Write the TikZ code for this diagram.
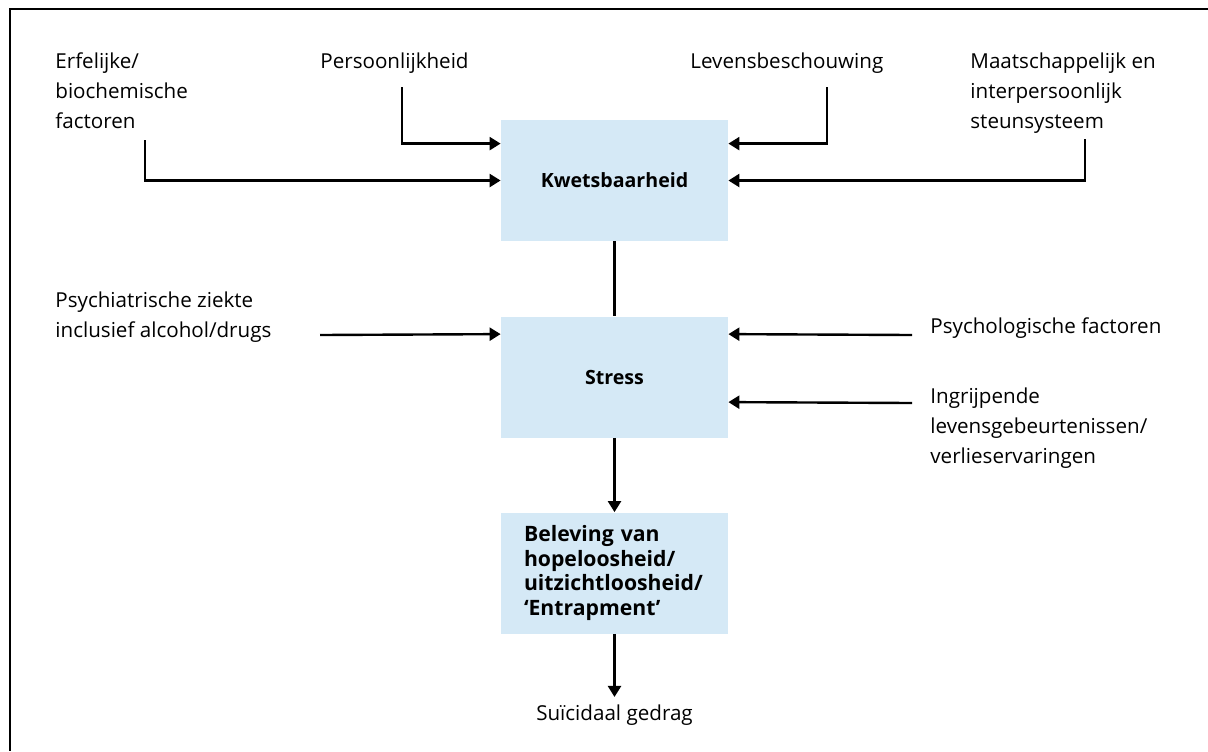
\documentclass[tikz,border=0pt]{standalone}
\usepackage{fontspec}
\setmainfont{Open Sans}
\usetikzlibrary{arrows.meta}
\definecolor{boxblue}{RGB}{213,233,246}
\begin{document}
\begin{tikzpicture}[x=0.5pt,y=-0.5pt,
  lbl/.style={anchor=base west,inner sep=0pt,align=left,font=\fontsize{10.3}{15}\selectfont},
  box/.style={fill=boxblue,minimum width=113.5pt,minimum height=60.5pt,inner sep=0pt,font=\fontsize{9.8}{12}\selectfont\bfseries},
  arr/.style={line width=1.2pt,-{Triangle[length=5.5pt,width=6.5pt]}},
  ln/.style={line width=1.2pt}]
\useasboundingbox (0,0) rectangle (1208,751);
\draw[line width=0.8pt] (1208,9) -- (10,9) -- (10,751);
% boxes
\node[box] (kw) at (614.5,180.5) {Kwetsbaarheid};
\node[box] (st) at (614.5,377) {Stress};
\node[box,text width=90.5pt,align=left,font=\fontsize{10.6}{12.3}\selectfont\bfseries] (bel) at (614.5,573) {Beleving van\\hopeloosheid/\\uitzichtloosheid/\\‘Entrapment’};
% labels (anchor = baseline of the last line)
\node[lbl] (erf) at (55,128) {Erfelijke/\\biochemische\\factoren};
\node[lbl] (pers) at (320,68) {Persoonlijkheid};
\node[lbl] (lev) at (690,68) {Levensbeschouwing};
\node[lbl] (maat) at (970,128) {Maatschappelijk en\\interpersoonlijk\\steunsysteem};
\node[lbl] (psy) at (55,337) {Psychiatrische ziekte\\inclusief alcohol/drugs};
\node[lbl] (psl) at (930,333) {Psychologische factoren};
\node[lbl] (ing) at (930,463) {Ingrijpende\\levensgebeurtenissen/\\verlieservaringen};
\node[lbl,anchor=base] (sui) at (614.5,720) {Suïcidaal gedrag};
% connector ends
\coordinate (erfS) at (145,140);
\coordinate (persS) at (402,87);
\coordinate (levS) at (827,87);
\coordinate (maatS) at (1085,139);
\coordinate (psyE) at (320,335);
\coordinate (pslE) at (912,335);
\coordinate (ingE) at (912,403);
% connectors
\draw[arr] (erfS) |- (kw.west);
\draw[arr] (persS) |- ([yshift=-12pt]kw.north west);
\draw[arr] (levS) |- ([yshift=-12pt]kw.north east);
\draw[arr] (maatS) |- (kw.east);
\draw[ln] (kw.south) -- (st.north);
\draw[arr] (psyE) -- ([yshift=-9pt]st.north west);
\draw[arr] (pslE) -- ([yshift=-9pt]st.north east);
\draw[arr] (ingE) -- ([yshift=-43pt]st.north east);
\draw[arr] (st.south) -- (bel.north);
\draw[arr] (bel.south) -- ([yshift=3.5pt]sui.north);
\end{tikzpicture}
\end{document}
